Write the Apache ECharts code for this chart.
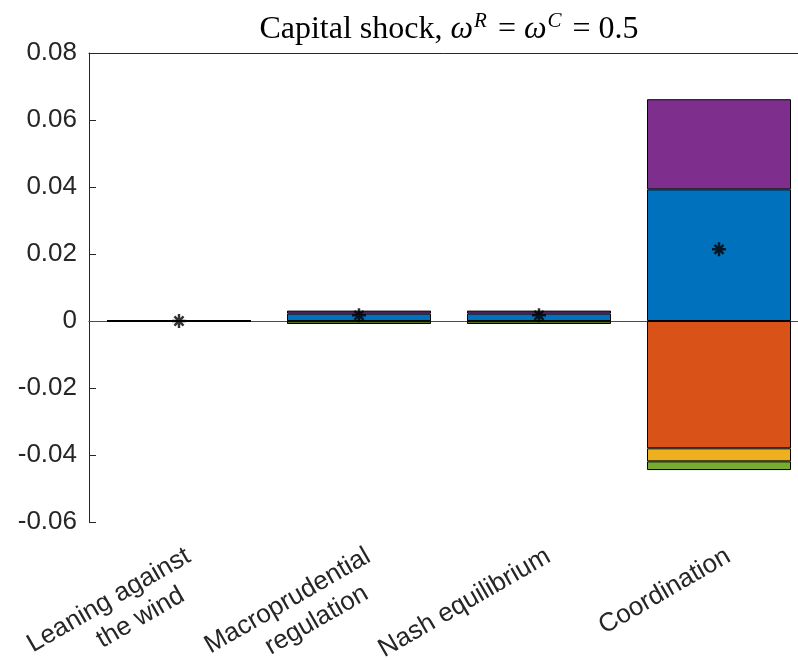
<!DOCTYPE html>
<html>
<head>
<meta charset="utf-8">
<script src="https://cdn.jsdelivr.net/npm/echarts@6/dist/echarts.min.js"></script>
<style>
  html, body { margin: 0; padding: 0; background: #fff; }
  #chart { width: 798px; height: 660px; }
</style>
</head>
<body>
<div id="chart"></div>
<script>
// Policy regimes on the horizontal axis
const categories = ['Leaning against\nthe wind', 'Macroprudential\nregulation', 'Nash equilibrium', 'Coordination'];

// Stacked contributions (positive and negative parts stack separately)
const contribBlue   = [0.00005, 0.0022, 0.0022, 0.0393];
const contribOrange = [-0.00003, -0.0001, -0.0001, -0.0380];
const contribYellow = [0, 0, 0, -0.0039];
const contribPurple = [0, 0.0009, 0.0009, 0.0269];
const contribGreen  = [-0.00003, -0.0008, -0.0008, -0.0026];

// Net effect of each regime (asterisk markers)
const totals = [0, 0.0017, 0.0017, 0.0214];

// Y-axis ticks
const yMin = -0.06, yMax = 0.08, yStep = 0.02;

const AXIS_COLOR = '#262626';
const SANS = '"Liberation Sans", Arial, sans-serif';
const SERIF = '"Liberation Serif", "Times New Roman", serif';
const LABEL_SIZE = 26;

// Measure text so the second line of a label can be placed part-way between
// right-aligned and centred under the first line.
const measureCtx = document.createElement('canvas').getContext('2d');
measureCtx.font = LABEL_SIZE + 'px ' + SANS;
const textWidth = s => measureCtx.measureText(s).width;

const labelRich = {};
categories.forEach((c, i) => {
  const lines = c.split('\n');
  const base = { align: 'right', fontSize: LABEL_SIZE, fontFamily: SANS, color: AXIS_COLOR, lineHeight: 31 };
  labelRich['a' + i] = Object.assign({}, base);
  const inset = lines.length > 1 ? Math.max(0, (textWidth(lines[0]) - textWidth(lines[1])) / 3.5) : 0;
  labelRich['b' + i] = Object.assign({}, base, { padding: [0, inset, 0, 0] });
});

// Eight-spoke asterisk marker (all sub-shapes wound the same way)
const asterisk = 'path://M8.25 0L11.75 0L11.75 20L8.25 20Z ' +
  'M0 8.25L20 8.25L20 11.75L0 11.75Z ' +
  'M4.737 2.263L17.737 15.263L15.263 17.737L2.263 4.737Z ' +
  'M4.737 17.737L2.263 15.263L15.263 2.263L17.737 4.737Z';

const colors = {
  blue: '#0072BD', orange: '#D95319', yellow: '#EDB120', purple: '#7E2F8E', green: '#77AC30'
};

function barSeries(name, data, color, extra) {
  return Object.assign({
    name: name,
    type: 'bar',
    stack: 'total',
    data: data,
    barWidth: '80%',
    itemStyle: { color: color, borderColor: '#000', borderWidth: 1 },
    emphasis: { disabled: true },
    z: 3
  }, extra || {});
}

const chart = echarts.init(document.getElementById('chart'), null, { renderer: 'canvas' });

chart.setOption({
  animation: false,
  backgroundColor: '#fff',
  title: {
    left: 444,
    top: 4,
    textAlign: 'center',
    text: '{n|Capital shock, }{i|ω}{s|R}{n| = }{i|ω}{s|C}{n| = 0.5}',
    textStyle: {
      fontWeight: 'normal',
      rich: {
        n: { fontFamily: SERIF, fontSize: 32, fontWeight: 'normal', color: '#000', lineHeight: 42 },
        i: { fontFamily: SERIF, fontSize: 32, fontWeight: 'normal', fontStyle: 'italic', color: '#000', lineHeight: 42 },
        s: { fontFamily: SERIF, fontSize: 21, fontWeight: 'normal', fontStyle: 'italic', color: '#000', lineHeight: 42, verticalAlign: 'top', padding: [2, 3, 0, 1] }
      }
    }
  },
  grid: { left: 89, right: -11, top: 53, height: 469, containLabel: false, outerBoundsMode: 'none' },
  xAxis: [
    {
      type: 'category',
      data: categories,
      position: 'bottom',
      axisLine: { lineStyle: { color: AXIS_COLOR, width: 1 } },
      axisTick: { inside: true, length: 7, alignWithLabel: true, lineStyle: { color: AXIS_COLOR } },
      axisLabel: {
        rotate: 30,
        margin: 20,
        interval: 0,
        verticalAlign: 'top',
        padding: [0, -2, 0, 0],
        fontSize: LABEL_SIZE,
        fontFamily: SANS,
        color: AXIS_COLOR,
        hideOverlap: false,
        formatter: (v, i) => v.split('\n').map((l, k) => '{' + (k === 0 ? 'a' : 'b') + i + '|' + l + '}').join('\n'),
        rich: labelRich
      },
      splitLine: { show: false }
    },
    {
      type: 'category',
      data: categories,
      position: 'top',
      axisLine: { lineStyle: { color: AXIS_COLOR, width: 1 } },
      axisTick: { inside: true, length: 7, alignWithLabel: true, lineStyle: { color: AXIS_COLOR } },
      axisLabel: { show: false },
      splitLine: { show: false }
    }
  ],
  yAxis: {
    type: 'value',
    min: yMin,
    max: yMax,
    interval: yStep,
    axisLine: { show: true, lineStyle: { color: AXIS_COLOR, width: 1 } },
    axisTick: { show: true, inside: true, length: 7, lineStyle: { color: AXIS_COLOR } },
    axisLabel: {
      fontSize: LABEL_SIZE,
      fontFamily: SANS,
      color: AXIS_COLOR,
      margin: 12,
      formatter: v => {
        const r = Math.round(v * 100) / 100;
        return r === 0 ? '0' : r.toFixed(2);
      }
    },
    splitLine: { show: false }
  },
  series: [
    barSeries('Contribution 1', contribBlue, colors.blue, {
      markLine: {
        silent: true,
        symbol: 'none',
        label: { show: false },
        lineStyle: { color: '#4d4d4d', width: 1, type: 'solid' },
        data: [{ yAxis: 0 }],
        z: 1
      }
    }),
    barSeries('Contribution 2', contribOrange, colors.orange),
    barSeries('Contribution 3', contribYellow, colors.yellow),
    barSeries('Contribution 4', contribPurple, colors.purple),
    barSeries('Contribution 5', contribGreen, colors.green),
    {
      name: 'Total',
      type: 'scatter',
      data: totals,
      symbol: asterisk,
      symbolSize: 14,
      itemStyle: { color: '#000' },
      emphasis: { disabled: true },
      z: 10
    }
  ]
});
</script>
</body>
</html>
